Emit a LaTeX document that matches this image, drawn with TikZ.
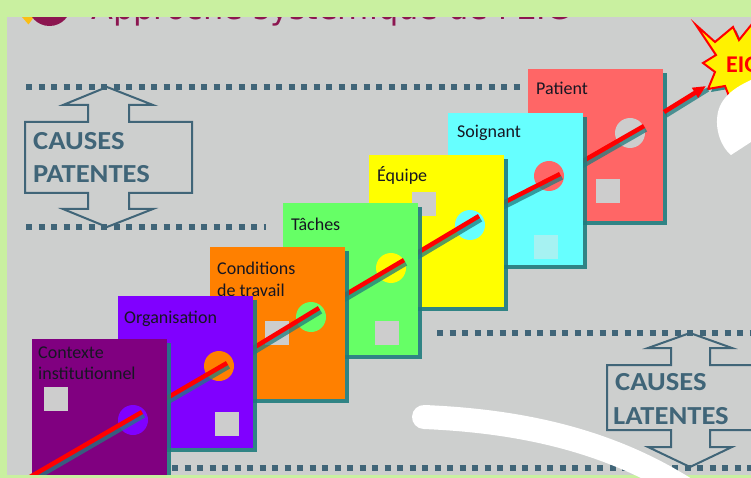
\documentclass[tikz,border=0pt]{standalone}
\usepackage{fontspec}
\usepackage{graphicx}
\setmainfont{Carlito}
\newfontfamily\titlefont{DejaVu Sans}
\usetikzlibrary{shadows,arrows.meta}

\definecolor{bggray}{RGB}{205,207,206}
\definecolor{frame}{RGB}{201,240,160}
\definecolor{slate}{RGB}{64,101,120}
\definecolor{shad}{RGB}{32,124,126}
\definecolor{maroonT}{RGB}{140,22,80}
\definecolor{logoyellow}{RGB}{250,190,20}
\definecolor{txt}{RGB}{22,22,34}
\definecolor{holegray}{RGB}{205,205,205}
\definecolor{cPurple}{RGB}{128,0,128}
\definecolor{cViolet}{RGB}{128,0,255}
\definecolor{cOrange}{RGB}{255,128,0}
\definecolor{cGreen}{RGB}{102,255,102}
\definecolor{cYellow}{RGB}{255,255,0}
\definecolor{cCyan}{RGB}{102,255,255}
\definecolor{cSalmon}{RGB}{255,102,102}
\definecolor{lightcyan}{RGB}{166,242,242}

\newcommand\redpiece[2]{%
  \draw[segshadow] #1 -- #2;
  \draw[redseg] #1 -- #2;}
\newcommand\causeword[1]{\scalebox{1.1}[1]{#1}}

\begin{document}
\begin{tikzpicture}[x=1pt,y=-1pt,
  card/.style={anchor=north west, minimum width=135pt, minimum height=152pt,
    inner sep=0pt, outer sep=0pt,
    drop shadow={shadow xshift=4pt, shadow yshift=-4pt, fill=shad, opacity=.9}},
  lbl/.style={anchor=base west, inner sep=0pt, font=\fontsize{18}{21.5}\selectfont, text=txt},
  dotc/.style={circle, minimum size=30pt, inner sep=0pt},
  hole/.style={anchor=north west, minimum size=24pt, inner sep=0pt, fill=holegray},
  dotline/.style={line width=6.5pt, dash pattern=on 6pt off 6.5pt, draw=slate},
  redseg/.style={line width=4.5pt, draw=red},
  segshadow/.style={line width=4.5pt, draw=shad, opacity=.75,
    transform canvas={shift={(2,3.5)}}},
  causes/.style={draw=slate, line width=2pt, line join=miter},
  causetxt/.style={anchor=base west, inner sep=0pt, font=\bfseries\fontsize{26}{26}\selectfont, text=slate}
]
\useasboundingbox (0,0) rectangle (751,478);
\clip (0,0) rectangle (751,478);

% frame and slide
\fill[frame] (0,0) rectangle (751,478);
\fill[bggray] (7,0) rectangle (751,478);

% logo and title (mostly hidden under the frame)
\fill[logoyellow] (22,8) -- (34,8) -- (34,17) -- (28.5,24.5) -- (22,17) -- cycle;
\fill[maroonT] (49.5,4.5) circle (21.5);
\node[anchor=base west, inner sep=0pt, font=\titlefont\fontsize{32}{32}\selectfont, text=maroonT]
  (title) at (91,20) {Approche systémique de l'EIG};
\fill[frame] (0,0) rectangle (751,17);

% dotted lines
\draw[dotline] (26,87) -- (524,87);
\draw[dotline] (26,227) -- (266,227);
\draw[dotline] (437,333) -- (760,333);
\draw[dotline] (172,468) -- (760,468);

% causes patentes
\draw[causes] (107,87) -- (153,105) -- (129,105) -- (129,122) -- (192,122) -- (192,193)
  -- (129,193) -- (129,209) -- (153,209) -- (107,227) -- (63,209) -- (88,209) -- (88,193)
  -- (25,193) -- (25,122) -- (88,122) -- (88,105) -- (63,105) -- cycle;
\node[causetxt] (cp1) at (33,150) {\causeword{CAUSES}};
\node[causetxt] (cp2) at (33,183) {\causeword{PATENTES}};

% causes latentes
\draw[causes] (690,333) -- (732,348) -- (710,348) -- (710,365) -- (775,365) -- (775,430)
  -- (710,430) -- (710,447) -- (732,447) -- (690,467) -- (648,447) -- (671,447) -- (671,430)
  -- (607,430) -- (607,365) -- (671,365) -- (671,348) -- (648,348) -- cycle;
\node[causetxt] (cl1) at (615,390) {\causeword{CAUSES}};
\node[causetxt] (cl2) at (613,424) {\causeword{LATENTES}};

% ---- cards, back to front ----
% Patient
\node[card, fill=cSalmon] (patient) at (528,69) {};
\node[hole] (hpat) at (596,179) {};
\node[dotc, fill=holegray] (cpat) at (630,133) {};
\redpiece{(576,165)}{(644,126)}
\node[lbl] (lpat) at (536,95) {Patient};

% Soignant
\node[card, fill=cCyan] (soignant) at (448,113) {};
\node[hole, fill=lightcyan] (hsoi) at (534,235) {};
\node[dotc, fill=cSalmon] (csoi) at (549,176) {};
\redpiece{(497,206)}{(560,174)}
\node[lbl] (lsoi) at (457,138) {Soignant};

% Equipe
\node[card, fill=cYellow] (equipe) at (369,155) {};
\node[hole] (hequ) at (412,192) {};
\node[dotc, fill=cCyan] (cequ) at (470,225) {};
\redpiece{(412,256)}{(479,216)}
\node[lbl] (lequ) at (377,182) {Équipe};

% Taches
\node[card, fill=cGreen] (taches) at (283,203) {};
\node[hole] (htac) at (375,321) {};
\node[dotc, fill=cYellow] (ctac) at (391,268) {};
\redpiece{(338,299)}{(404,260)}
\node[lbl] (ltac) at (291,230) {Tâches};

% Conditions de travail
\node[card, fill=cOrange] (conditions) at (210,247) {};
\node[hole] (hcon) at (265,321) {};
\node[dotc, fill=cGreen] (ccon) at (311,317) {};
\redpiece{(245,353)}{(319,308)}
\node[lbl] (lcon1) at (217,274) {Conditions};
\node[lbl] (lcon2) at (217,296) {de travail};

% Organisation
\node[card, fill=cViolet] (organisation) at (118,296) {};
\node[hole] (horg) at (215,412) {};
\node[dotc, fill=cOrange] (corg) at (219,366) {};
\redpiece{(160,402)}{(227,363)}
\node[lbl] (lorg) at (124,323) {Organisation};

% Contexte institutionnel
\node[card, fill=cPurple] (contexte) at (32,339) {};
\node[hole] (hctx) at (44,387) {};
\node[dotc, fill=cViolet] (cctx) at (133,420) {};
\redpiece{(30,477)}{(142,412)}
\node[lbl] (lctx1) at (38,358) {Contexte};
\node[lbl] (lctx2) at (38,379) {institutionnel};

% ---- starburst EIG ----
\filldraw[fill=yellow, draw=red, line width=2pt, line join=miter,
  drop shadow={shadow xshift=3pt, shadow yshift=-3pt, fill=shad, opacity=.85}]
  (696,25) -- (715,42) -- (733,27) -- (739,40) -- (752,24) -- (762,40) -- (780,45)
  -- (772,62) -- (780,82) -- (760,92) -- (745,92) -- (738,105) -- (731,101) -- (725,86)
  -- (708,89) -- (715,72) -- (703,63) -- (716,55) -- cycle;
\node[anchor=base west, inner sep=0pt, font=\bfseries\fontsize{24}{24}\selectfont, text=red]
  (eig) at (726,73) {EIG};

% arrow from the patient card to the starburst
\coordinate (astart) at (664,112);
\coordinate (atip) at (706,86);
\draw[segshadow] (astart) -- (atip);
\draw[redseg, -{Triangle[length=13pt,width=11pt]}] (astart) -- (atip);

% white swooshes
\fill[white] (751,80) .. controls (738,86) and (722,95) .. (718,112)
  .. controls (714,130) and (722,148) .. (731,155) -- (751,142) -- cycle;
\fill[frame] (0,475) rectangle (751,478);
\draw[white, line width=24pt, line cap=round] (424,417) .. controls (520,421) and (610,440) .. (690,492);
\end{tikzpicture}
\end{document}
